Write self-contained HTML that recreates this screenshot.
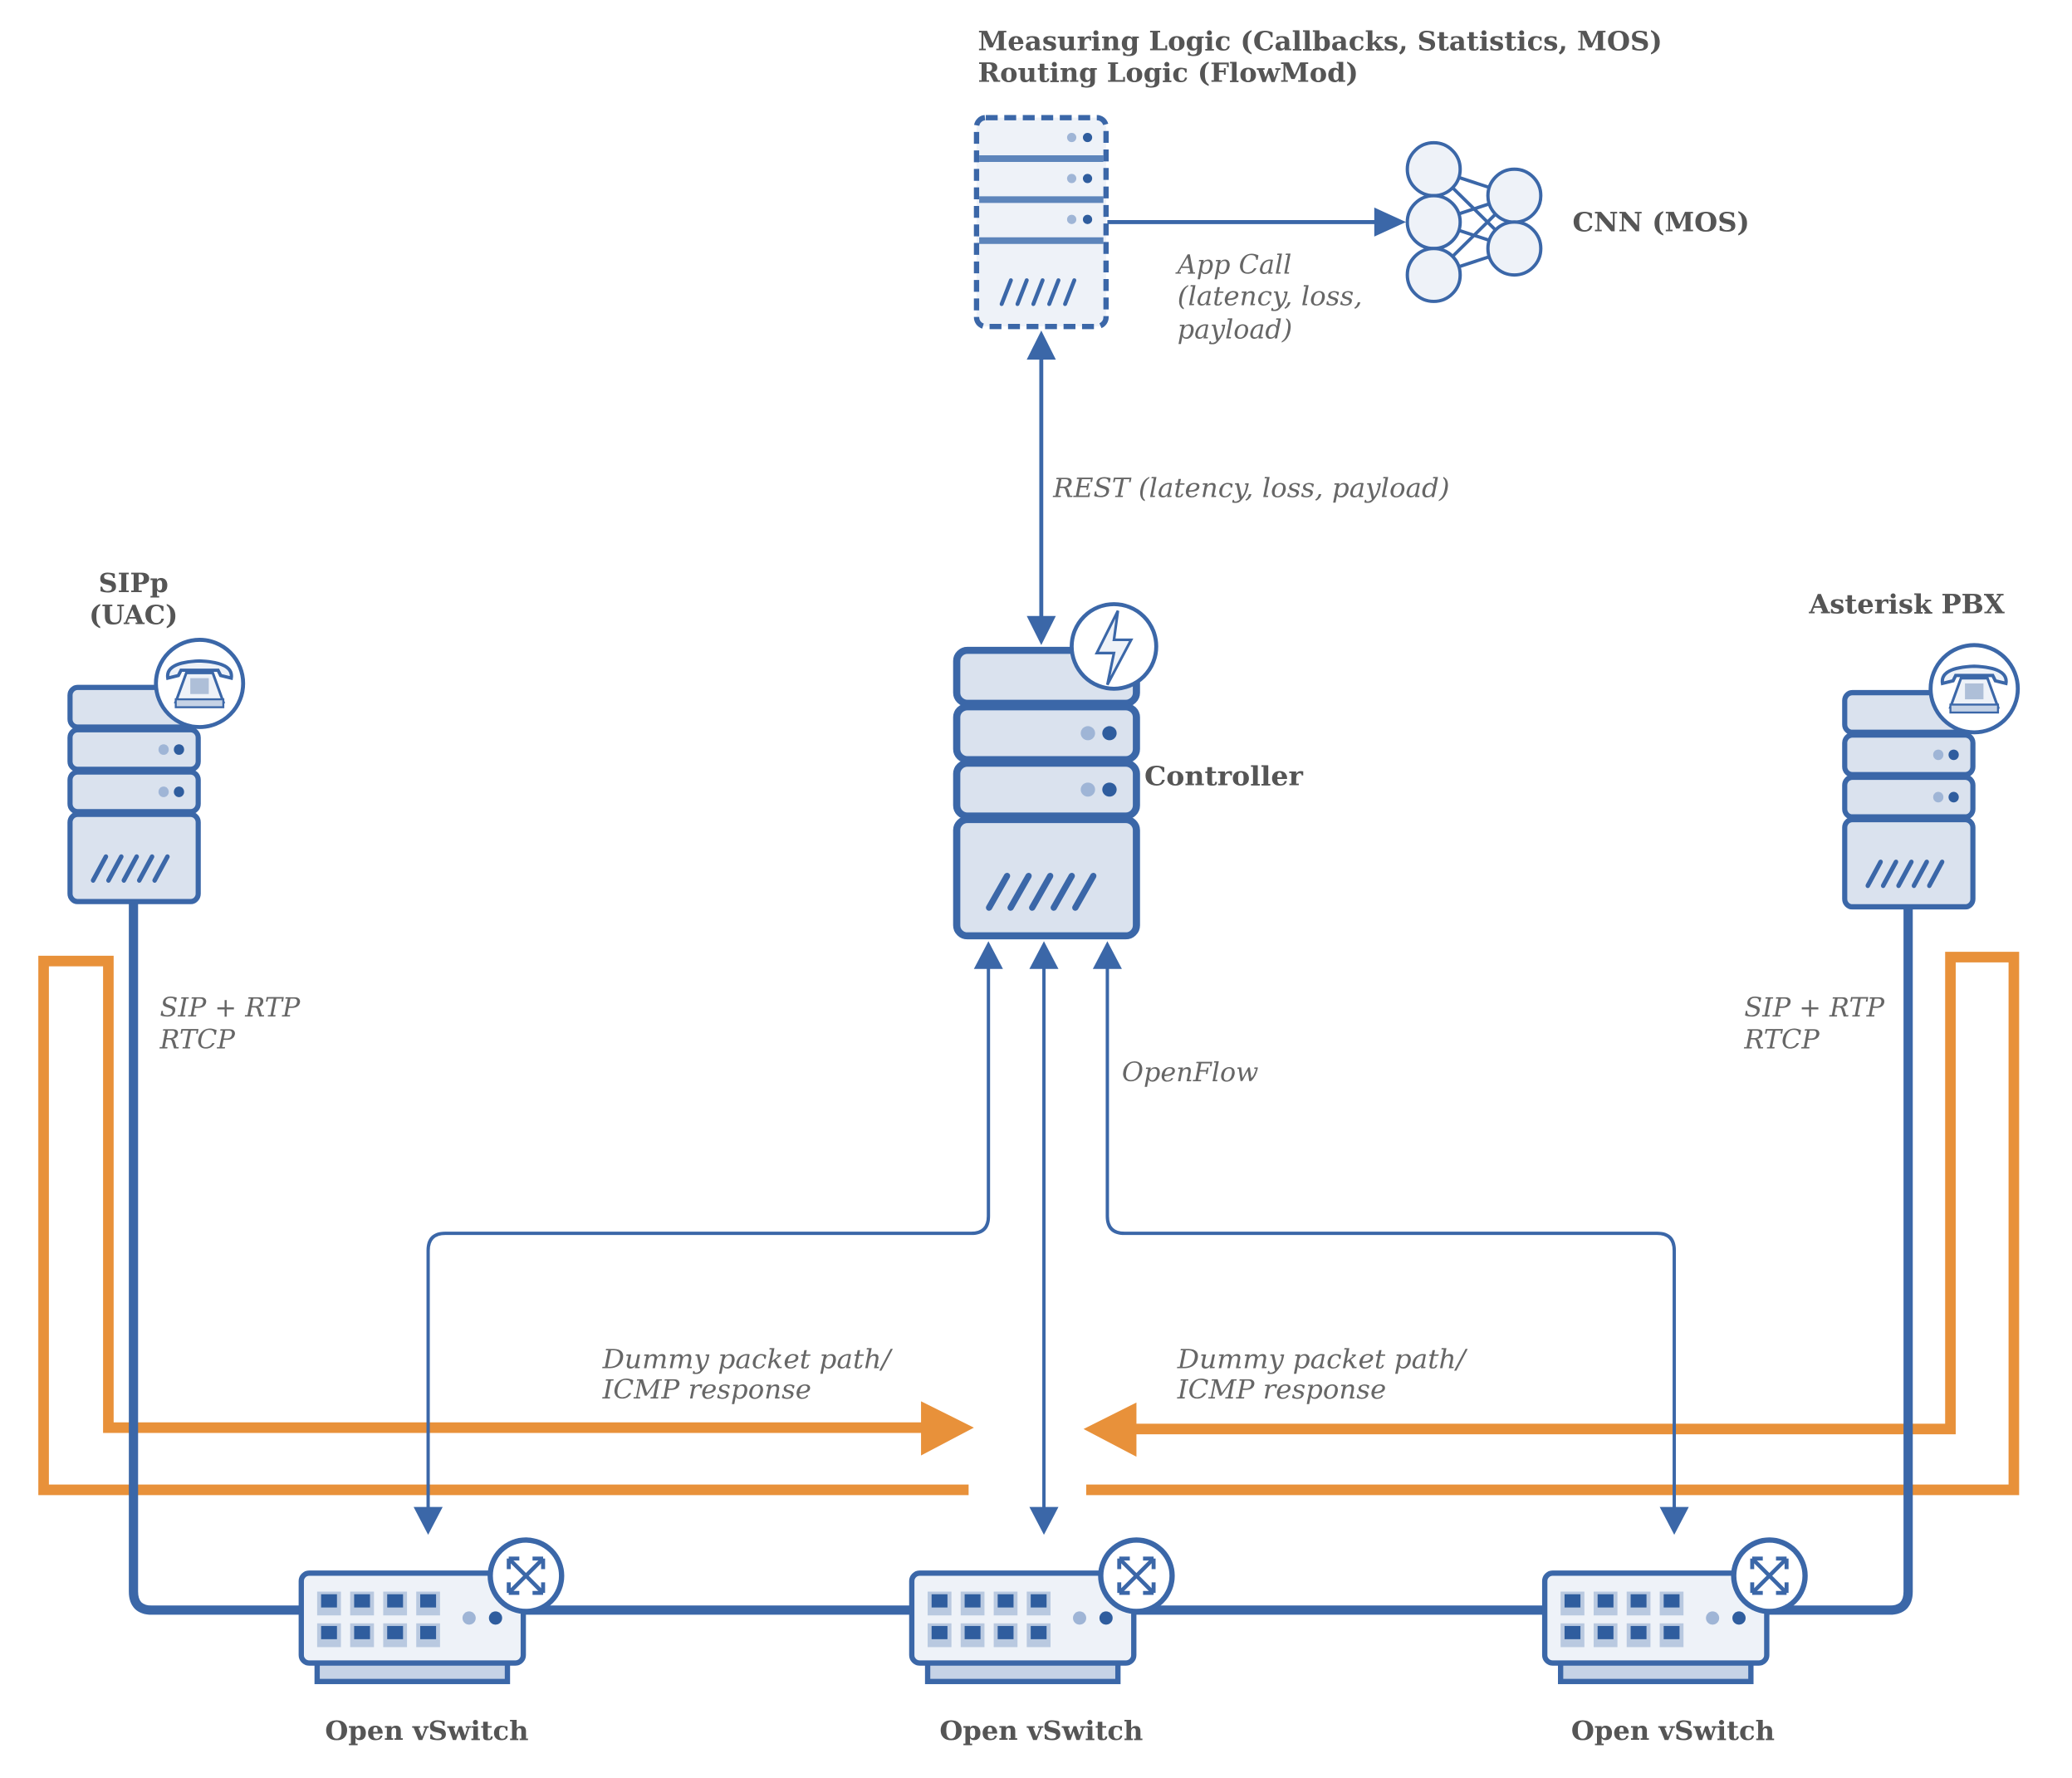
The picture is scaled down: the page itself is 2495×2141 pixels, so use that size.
<!DOCTYPE html>
<html><head><meta charset="utf-8"><style>
html,body{margin:0;padding:0;background:#fff;}
svg{display:block;}
.t{font-family:"DejaVu Serif","Liberation Serif",serif;font-weight:bold;fill:#555;}
.i{font-family:"DejaVu Serif","Liberation Serif",serif;font-style:italic;fill:#666;}
</style></head><body>
<svg width="2495" height="2141" viewBox="0 0 1568 1345" preserveAspectRatio="none" xmlns="http://www.w3.org/2000/svg">
<defs>
<g id="srv">
 <rect x="0" y="0" width="100" height="30" rx="6" fill="#dae2ee" stroke="#3b67a8" stroke-width="4"/>
 <rect x="0" y="32" width="100" height="30" rx="6" fill="#dae2ee" stroke="#3b67a8" stroke-width="4"/>
 <rect x="0" y="64" width="100" height="30" rx="6" fill="#dae2ee" stroke="#3b67a8" stroke-width="4"/>
 <rect x="0" y="96" width="100" height="66" rx="6" fill="#dae2ee" stroke="#3b67a8" stroke-width="4"/>
 <circle cx="73" cy="47" r="4" fill="#9fb5d6"/><circle cx="85" cy="47" r="4" fill="#2f5d9e"/>
 <circle cx="73" cy="79" r="4" fill="#9fb5d6"/><circle cx="85" cy="79" r="4" fill="#2f5d9e"/>
 <g stroke="#3b67a8" stroke-width="3.5" stroke-linecap="round">
  <line x1="18" y1="146" x2="28" y2="128"/><line x1="30" y1="146" x2="40" y2="128"/>
  <line x1="42" y1="146" x2="52" y2="128"/><line x1="54" y1="146" x2="64" y2="128"/>
  <line x1="66" y1="146" x2="76" y2="128"/>
 </g>
</g>
<g id="phone">
 <circle cx="0" cy="0" r="33" fill="#fff" stroke="#3b67a8" stroke-width="3"/>
 <path d="M-24 -4 Q-26 -16 0 -17 Q26 -16 24 -4 L16 -6 L14 -10 L-14 -10 L-16 -6 Z" fill="#eef2f8" stroke="#3b67a8" stroke-width="2.5"/>
 <path d="M-10 -8 L10 -8 L18 14 L-18 14 Z" fill="#eef2f8" stroke="#3b67a8" stroke-width="2"/>
 <rect x="-18" y="12" width="36" height="6" fill="#c6d3e6" stroke="#3b67a8" stroke-width="1.5"/>
 <g fill="#aebfd8"><rect x="-7" y="-4" width="14" height="12"/></g>
</g>
<g id="sw">
 <rect x="12" y="66" width="144" height="16" fill="#c6d3e6" stroke="#3b67a8" stroke-width="4"/>
 <rect x="0" y="0" width="168" height="68" rx="6" fill="#eef2f8" stroke="#3b67a8" stroke-width="4"/>
 <g fill="#b9c9e0">
  <rect x="12" y="14" width="18" height="18"/><rect x="37" y="14" width="18" height="18"/><rect x="62" y="14" width="18" height="18"/><rect x="87" y="14" width="18" height="18"/>
  <rect x="12" y="38" width="18" height="18"/><rect x="37" y="38" width="18" height="18"/><rect x="62" y="38" width="18" height="18"/><rect x="87" y="38" width="18" height="18"/>
 </g>
 <g fill="#2f5d9e">
  <rect x="15" y="16" width="12" height="10"/><rect x="40" y="16" width="12" height="10"/><rect x="65" y="16" width="12" height="10"/><rect x="90" y="16" width="12" height="10"/>
  <rect x="15" y="40" width="12" height="10"/><rect x="40" y="40" width="12" height="10"/><rect x="65" y="40" width="12" height="10"/><rect x="90" y="40" width="12" height="10"/>
 </g>
 <circle cx="127" cy="34" r="5" fill="#9fb5d6"/><circle cx="147" cy="34" r="5" fill="#2f5d9e"/>
 <circle cx="170" cy="2" r="27" fill="#fff" stroke="#3b67a8" stroke-width="4"/>
 <g stroke="#3b67a8" stroke-width="3" fill="none">
  <path d="M157 -11 L183 15 M183 -11 L157 15"/>
  <path d="M157 -11 l0 8 M157 -11 l8 0 M183 -11 l0 8 M183 -11 l-8 0 M157 15 l0 -8 M157 15 l8 0 M183 15 l0 -8 M183 15 l-8 0"/>
 </g>
</g>
</defs>

<text class="t" x="740" y="38" font-size="20" textLength="518" lengthAdjust="spacingAndGlyphs">Measuring Logic (Callbacks, Statistics, MOS)</text>
<text class="t" x="740" y="62" font-size="20" textLength="288" lengthAdjust="spacingAndGlyphs">Routing Logic (FlowMod)</text>

<g fill="#eef2f8" stroke="#3b67a8" stroke-width="4">
 <rect x="739" y="89" width="98" height="158" rx="7" stroke-dasharray="9 5"/>
</g>
<g stroke="#5d85bb" stroke-width="5"><line x1="741" y1="120" x2="835" y2="120"/><line x1="741" y1="151" x2="835" y2="151"/><line x1="741" y1="182" x2="835" y2="182"/></g>
<circle cx="811" cy="104" r="3.5" fill="#9fb5d6"/><circle cx="823" cy="104" r="3.5" fill="#2f5d9e"/>
<circle cx="811" cy="135" r="3.5" fill="#9fb5d6"/><circle cx="823" cy="135" r="3.5" fill="#2f5d9e"/>
<circle cx="811" cy="166" r="3.5" fill="#9fb5d6"/><circle cx="823" cy="166" r="3.5" fill="#2f5d9e"/>
<g stroke="#3b67a8" stroke-width="3" stroke-linecap="round">
 <line x1="758" y1="230" x2="765" y2="212"/><line x1="770" y1="230" x2="777" y2="212"/><line x1="782" y1="230" x2="789" y2="212"/><line x1="794" y1="230" x2="801" y2="212"/><line x1="806" y1="230" x2="813" y2="212"/>
</g>

<line x1="838" y1="168" x2="1045" y2="168" stroke="#3b67a8" stroke-width="3"/>
<polygon points="1040,157 1064,168 1040,179" fill="#3b67a8"/>
<g stroke="#3b67a8" stroke-width="2.5">
 <line x1="1085" y1="128" x2="1146" y2="148"/><line x1="1085" y1="128" x2="1146" y2="188"/>
 <line x1="1085" y1="168" x2="1146" y2="148"/><line x1="1085" y1="168" x2="1146" y2="188"/>
 <line x1="1085" y1="208" x2="1146" y2="148"/><line x1="1085" y1="208" x2="1146" y2="188"/>
</g>
<g fill="#eef2f8" stroke="#3b67a8" stroke-width="2.5">
 <circle cx="1085" cy="128" r="20"/><circle cx="1085" cy="168" r="20"/><circle cx="1085" cy="208" r="20"/>
 <circle cx="1146" cy="148" r="20"/><circle cx="1146" cy="188" r="20"/>
</g>
<text class="t" x="1190" y="175" font-size="20" textLength="134" lengthAdjust="spacingAndGlyphs">CNN (MOS)</text>
<text class="i" x="891" y="207" font-size="20">App Call</text>
<text class="i" x="891" y="231" font-size="20" textLength="140" lengthAdjust="spacingAndGlyphs">(latency, loss,</text>
<text class="i" x="891" y="256" font-size="20">payload)</text>

<line x1="788" y1="268" x2="788" y2="470" stroke="#3b67a8" stroke-width="3"/>
<polygon points="777,272 788,250 799,272" fill="#3b67a8"/>
<polygon points="777,466 788,488 799,466" fill="#3b67a8"/>
<text class="i" x="797" y="376" font-size="20" textLength="300" lengthAdjust="spacingAndGlyphs">REST (latency, loss, payload)</text>

<g transform="translate(724,492) scale(1.36,1.333)"><use href="#srv"/></g>
<circle cx="843" cy="489" r="32" fill="#fff" stroke="#3b67a8" stroke-width="3"/>
<path d="M846 462 L830 494 L843 494 L838 518 L856 484 L843 484 Z" fill="#eef2f8" stroke="#3b67a8" stroke-width="2"/>
<text class="t" x="866" y="594" font-size="20" textLength="120" lengthAdjust="spacingAndGlyphs">Controller</text>

<g fill="none" stroke="#e8913a" stroke-width="8">
 <polyline points="733,1127 33,1127 33,727 82,727 82,1080 700,1080"/>
 <polyline points="822,1127 1524,1127 1524,724 1476,724 1476,1081 858,1081"/>
</g>
<polygon points="697,1060 737,1080 697,1101" fill="#e8913a"/>
<polygon points="860,1061 820,1081 860,1102" fill="#e8913a"/>

<path d="M101 682 L101 1204 Q101 1218 115 1218 L1430 1218 Q1444 1218 1444 1204 L1444 686" fill="none" stroke="#3b67a8" stroke-width="7"/>

<g transform="translate(53,520) scale(0.97,1)"><use href="#srv"/></g>
<use href="#phone" transform="translate(151,517)"/>
<text class="t" x="101" y="448" font-size="20" text-anchor="middle">SIPp</text>
<text class="t" x="101" y="472" font-size="20" text-anchor="middle">(UAC)</text>

<g transform="translate(1396,524) scale(0.97,1)"><use href="#srv"/></g>
<use href="#phone" transform="translate(1494,521)"/>
<text class="t" x="1443" y="464" font-size="20" text-anchor="middle" textLength="148" lengthAdjust="spacingAndGlyphs">Asterisk PBX</text>

<g fill="none" stroke="#3b67a8" stroke-width="2.5">
 <path d="M748 730 L748 920 Q748 933 735 933 L337 933 Q324 933 324 946 L324 1142"/>
 <line x1="790" y1="730" x2="790" y2="1142"/>
 <path d="M838 730 L838 920 Q838 933 851 933 L1254 933 Q1267 933 1267 946 L1267 1142"/>
</g>
<g fill="#3b67a8">
 <polygon points="737,733 748,712 759,733"/><polygon points="779,733 790,712 801,733"/><polygon points="827,733 838,712 849,733"/>
 <polygon points="313,1140 324,1161 335,1140"/><polygon points="779,1140 790,1161 801,1140"/><polygon points="1256,1140 1267,1161 1278,1140"/>
</g>

<use href="#sw" transform="translate(228,1190)"/>
<use href="#sw" transform="translate(690,1190)"/>
<use href="#sw" transform="translate(1169,1190)"/>

<text class="i" x="121" y="769" font-size="20">SIP + RTP</text>
<text class="i" x="121" y="793" font-size="20">RTCP</text>
<text class="i" x="1320" y="769" font-size="20">SIP + RTP</text>
<text class="i" x="1320" y="793" font-size="20">RTCP</text>
<text class="i" x="849" y="818" font-size="20">OpenFlow</text>
<text class="i" x="456" y="1035" font-size="20" textLength="218" lengthAdjust="spacingAndGlyphs">Dummy packet path/</text>
<text class="i" x="456" y="1058" font-size="20" textLength="158" lengthAdjust="spacingAndGlyphs">ICMP response</text>
<text class="i" x="891" y="1035" font-size="20" textLength="218" lengthAdjust="spacingAndGlyphs">Dummy packet path/</text>
<text class="i" x="891" y="1058" font-size="20" textLength="158" lengthAdjust="spacingAndGlyphs">ICMP response</text>
<text class="t" x="323" y="1316" font-size="20" text-anchor="middle" textLength="154" lengthAdjust="spacingAndGlyphs">Open vSwitch</text>
<text class="t" x="788" y="1316" font-size="20" text-anchor="middle" textLength="154" lengthAdjust="spacingAndGlyphs">Open vSwitch</text>
<text class="t" x="1266" y="1316" font-size="20" text-anchor="middle" textLength="154" lengthAdjust="spacingAndGlyphs">Open vSwitch</text>
</svg>
</body></html>
